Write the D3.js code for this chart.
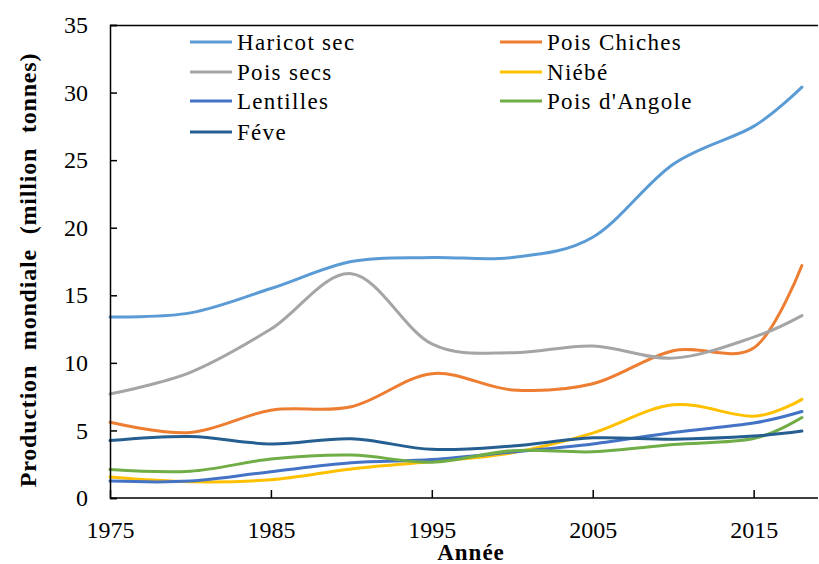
<!DOCTYPE html>
<html><head><meta charset="utf-8">
<script src="https://cdn.jsdelivr.net/npm/d3@7"></script>
<style>body{margin:0;background:#fff}svg{display:block}</style>
</head><body>
<svg id="c" width="819" height="564"></svg>
<script>
const years = [1975, 1980, 1985, 1990, 1995, 2000, 2005, 2010, 2015, 2018];
const haricotSec   = [13.4, 13.7, 15.5, 17.5, 17.8, 17.8, 19.3, 24.7, 27.5, 30.4];
const poisChiches  = [5.6, 4.85, 6.5, 6.75, 9.2, 8.0, 8.45, 10.9, 11.1, 17.2];
const poisSecs     = [7.7, 9.3, 12.5, 16.6, 11.4, 10.75, 11.25, 10.35, 11.9, 13.5];
const niebe        = [1.55, 1.2, 1.35, 2.15, 2.7, 3.35, 4.8, 6.9, 6.05, 7.3];
const lentilles    = [1.25, 1.25, 1.95, 2.6, 2.85, 3.4, 4.0, 4.85, 5.55, 6.4];
const poisAngole   = [2.1, 1.98, 2.88, 3.18, 2.65, 3.5, 3.42, 3.95, 4.4, 5.95];
const feve         = [4.25, 4.55, 4.0, 4.38, 3.6, 3.85, 4.45, 4.35, 4.58, 4.95];
const seriesNames  = ["Haricot sec", "Pois Chiches", "Pois secs", "Niébé", "Lentilles", "Pois d'Angole", "Féve"];
const seriesValues = [haricotSec, poisChiches, poisSecs, niebe, lentilles, poisAngole, feve];
const colors = ["#5B9BD5", "#ED7D31", "#A5A5A5", "#FFC000", "#4472C4", "#70AD47", "#255E91"];
const xTicks = [1975, 1985, 1995, 2005, 2015];
const yTicks = [0, 5, 10, 15, 20, 25, 30, 35];

const svg = d3.select("#c");
const L = 110, R = 818, T = 25, B = 498;
const x = d3.scaleLinear().domain([1975, 2019]).range([L, R]);
const y = d3.scaleLinear().domain([0, 35]).range([B, T]);
const font = "'Liberation Serif','Times New Roman',serif";

// frame top line
svg.append("line").attr("x1", L).attr("x2", R).attr("y1", T + 0.5).attr("y2", T + 0.5)
  .attr("stroke", "#000").attr("stroke-width", 1.5);

// lines
const line = d3.line().x((d, i) => x(years[i])).y(d => y(d)).curve(d3.curveCatmullRom.alpha(0));
seriesValues.forEach((vals, k) => {
  svg.append("path").attr("d", line(vals)).attr("fill", "none")
    .attr("stroke", colors[k]).attr("stroke-width", 3).attr("stroke-linecap", "round");
});

// axes
const yAxis = d3.axisRight(y).tickValues(yTicks).tickSize(7).tickFormat(d3.format("d"));
const gy = svg.append("g").attr("transform", `translate(${L},0)`).call(yAxis);
gy.select(".domain").attr("stroke-width", 1.5);
gy.selectAll(".tick line").attr("stroke-width", 1.5);
gy.selectAll(".tick text").attr("x", -22).attr("text-anchor", "end")
  .style("font-family", font).style("font-size", "24px").attr("fill", "#000");

const xAxis = d3.axisTop(x).tickValues(xTicks).tickSize(8).tickFormat(d3.format("d"));
const gx = svg.append("g").attr("transform", `translate(0,${B})`).call(xAxis);
gx.select(".domain").attr("stroke-width", 1.5).attr("d", `M${L},0H${R}`);
gx.selectAll(".tick line").attr("stroke-width", 1.5);
gx.selectAll(".tick text").attr("y", 40).attr("dy", 0)
  .style("font-family", font).style("font-size", "24px").attr("fill", "#000");

// axis titles
svg.append("text").attr("x", 471).attr("y", 560).attr("text-anchor", "middle")
  .style("font-family", font).style("font-size", "23px").style("font-weight", "bold")
  .style("letter-spacing", "1px").text("Année");
svg.append("text").attr("transform", `translate(36,270) rotate(-90)`)
  .attr("text-anchor", "middle").style("font-family", font).style("font-size", "24px")
  .style("font-weight", "bold").style("word-spacing", "8px").style("letter-spacing", "0.8px")
  .text("Production mondiale (million tonnes)");

// legend
const legPos = [[190, 42], [500, 42], [190, 72], [500, 72], [190, 101], [500, 101], [190, 132]];
seriesNames.forEach((n, k) => {
  const [lx, ly] = legPos[k];
  svg.append("line").attr("x1", lx).attr("x2", lx + 42).attr("y1", ly).attr("y2", ly)
    .attr("stroke", colors[k]).attr("stroke-width", 3);
  svg.append("text").attr("x", lx + 47).attr("y", ly + 8).style("font-family", font)
    .style("font-size", "23px").style("letter-spacing", "1.3px").text(n);
});
</script>
</body></html>
